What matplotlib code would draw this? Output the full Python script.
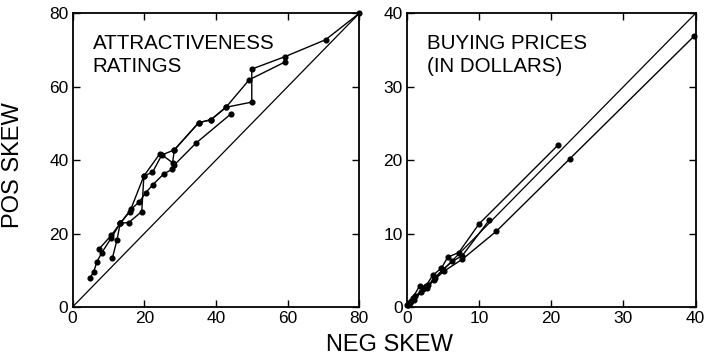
import matplotlib.pyplot as plt

plt.rcParams['font.family'] = ['Liberation Sans', 'DejaVu Sans']

# attractiveness ratings (left panel): neg skew x, pos skew y
attr_a_x = [4.8, 5.9, 6.8, 8.1, 10.8, 13.3, 16.4, 18.6, 20.4, 22.4, 25.5, 27.8, 28.4, 34.4, 44.2]
attr_a_y = [7.8, 9.6, 12.3, 14.7, 18.8, 22.8, 26.7, 28.6, 31.1, 33.3, 36.3, 37.5, 38.7, 44.6, 52.6]

attr_b_x = [7.4, 10.8, 13.3, 16.0, 19.9, 22.3, 24.9, 28.4, 35.2, 38.6, 42.8, 49.3, 59.4]
attr_b_y = [15.8, 19.5, 22.8, 26.0, 35.7, 36.7, 41.4, 42.8, 50.2, 51.0, 54.4, 61.9, 66.8]

attr_c_x = [11.1, 12.4, 13.3, 15.7, 19.3, 19.9, 24.4, 27.9, 28.4, 35.2, 38.6, 42.8, 50.0, 50.0, 59.3, 70.6, 80.0]
attr_c_y = [13.3, 18.3, 22.8, 23.0, 26.0, 35.7, 41.8, 39.3, 42.8, 50.2, 51.0, 54.4, 55.8, 64.8, 68.2, 72.8, 80.0]

# buying prices (right panel)
price_a_x = [0.3, 0.8, 1.8, 2.6, 3.6, 4.8, 5.7, 7.2, 10.0, 20.9]
price_a_y = [0.5, 1.2, 2.9, 2.8, 4.3, 5.3, 6.8, 7.4, 11.3, 22.0]

price_b_x = [0.2, 0.6, 1.2, 2.3, 3.0, 3.9, 5.0, 6.3, 7.7, 11.4]
price_b_y = [0.3, 0.8, 1.5, 2.4, 3.0, 4.0, 5.1, 6.2, 7.0, 11.8]

price_c_x = [0.1, 0.5, 1.0, 2.0, 2.8, 3.8, 5.2, 7.7, 12.4, 22.6, 39.8]
price_c_y = [0.2, 0.6, 1.0, 2.0, 2.6, 3.7, 4.9, 6.5, 10.3, 20.2, 36.9]

attr_ticks = [0, 20, 40, 60, 80]
price_ticks = [0, 10, 20, 30, 40]

fig = plt.figure(figsize=(7.08, 3.59), dpi=100)
ax1 = fig.add_axes([0.1025, 0.145, 0.405, 0.818])
ax2 = fig.add_axes([0.5745, 0.145, 0.408, 0.818])


def style_panel(ax, ticks, title):
    lim = ticks[-1]
    ax.plot([0, lim], [0, lim], color='black', lw=0.9)
    ax.set_xlim(0, lim)
    ax.set_ylim(0, lim)
    ax.set_xticks(ticks)
    ax.set_yticks(ticks)
    ax.tick_params(direction='in', top=True, right=True, length=5, width=1,
                   labelsize=12.5, pad=3)
    for s in ax.spines.values():
        s.set_linewidth(1.3)
    ax.text(0.07, 0.93, title, transform=ax.transAxes, fontsize=14.8,
            va='top', ha='left', linespacing=1.25)


line_kw = dict(color='black', lw=1.0, marker='o', markersize=3.4, clip_on=False)
ax1.plot(attr_a_x, attr_a_y, **line_kw)
ax1.plot(attr_b_x, attr_b_y, **line_kw)
ax1.plot(attr_c_x, attr_c_y, **line_kw)
style_panel(ax1, attr_ticks, 'ATTRACTIVENESS\nRATINGS')

ax2.plot(price_a_x, price_a_y, **line_kw)
ax2.plot(price_b_x, price_b_y, **line_kw)
ax2.plot(price_c_x, price_c_y, **line_kw)
style_panel(ax2, price_ticks, 'BUYING PRICES\n(IN DOLLARS)')

fig.text(0.018, 0.54, 'POS SKEW', rotation=90, fontsize=17, ha='center', va='center')
fig.text(0.55, 0.038, 'NEG SKEW', fontsize=17, ha='center', va='center')

fig.savefig('out.png', dpi=100)
